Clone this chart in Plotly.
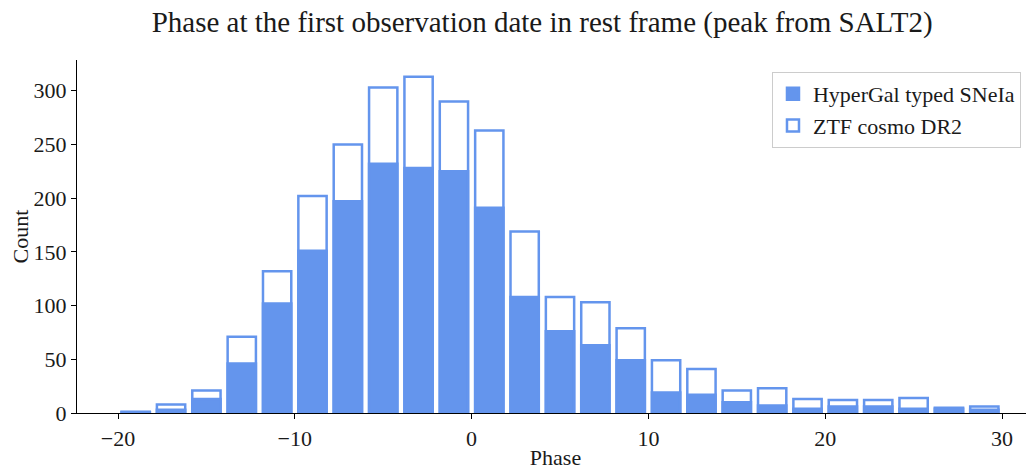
import plotly.graph_objects as go

# histogram bins of width 2 from -20 to 30
bin_left = [-20, -18, -16, -14, -12, -10, -8, -6, -4, -2, 0, 2, 4,
            6, 8, 10, 12, 14, 16, 18, 20, 22, 24, 26, 28]
ztf_counts = [1, 8, 21, 71, 132, 202, 250, 303, 313, 290, 263, 169, 108,
              103, 79, 49, 41, 21, 23, 13, 12, 12, 14, 5, 6]
hypergal_counts = [1, 3, 13, 46, 102, 151, 197, 232, 228, 225, 191, 108, 76,
                   63, 49, 19, 17, 10, 7, 4, 6, 6, 4, 4, 3]
bin_width = 2

BLUE = "#6495ED"
FONT = "Liberation Serif"


def main():
    centers = [b + bin_width / 2 for b in bin_left]

    fig = go.Figure()
    fig.add_trace(go.Bar(
        x=centers, y=hypergal_counts, width=bin_width * 0.8,
        name="HyperGal typed SNeIa",
        marker=dict(color=BLUE, line=dict(color=BLUE, width=2.5)),
    ))
    fig.add_trace(go.Bar(
        x=centers, y=ztf_counts, width=bin_width * 0.8,
        name="ZTF cosmo DR2",
        marker=dict(color="rgba(0,0,0,0)", line=dict(color=BLUE, width=2.5)),
    ))

    # the page body adds 8px around the figure, margins account for it
    fig.update_layout(
        width=1034, height=465,
        margin=dict(l=69, r=8, t=52, b=60),
        barmode="overlay",
        plot_bgcolor="white",
        paper_bgcolor="white",
        font=dict(family=FONT, size=22, color="#1a1a1a"),
        title=dict(
            text="Phase at the first observation date in rest frame (peak from SALT2)",
            x=0.486, xref="paper", xanchor="center",
            y=0.97, yanchor="middle",
            font=dict(family=FONT, size=29, color="#1a1a1a"),
        ),
        legend=dict(
            x=0.9864, y=0.966, xanchor="right", yanchor="top",
            bordercolor="#cccccc", borderwidth=1, bgcolor="white",
            font=dict(family=FONT, size=22),
        ),
        showlegend=True,
    )
    fig.update_xaxes(
        range=[-22.32, 31.81], automargin=False,
        tickvals=[-20, -10, 0, 10, 20, 30],
        showline=True, linecolor="black", linewidth=1.2,
        ticks="outside", ticklen=5, tickcolor="black",
        showgrid=False, zeroline=False,
        title=dict(text="Phase", standoff=0, font=dict(size=22)),
    )
    fig.update_yaxes(
        range=[0, 328.6], automargin=False,
        tickvals=[0, 50, 100, 150, 200, 250, 300],
        showline=True, linecolor="black", linewidth=1.2,
        ticks="outside", ticklen=5, tickcolor="black",
        showgrid=False, zeroline=False,
        title=dict(text="Count", standoff=4, font=dict(size=22)),
    )
    fig.write_html("out.html")


if __name__ == "__main__":
    main()
